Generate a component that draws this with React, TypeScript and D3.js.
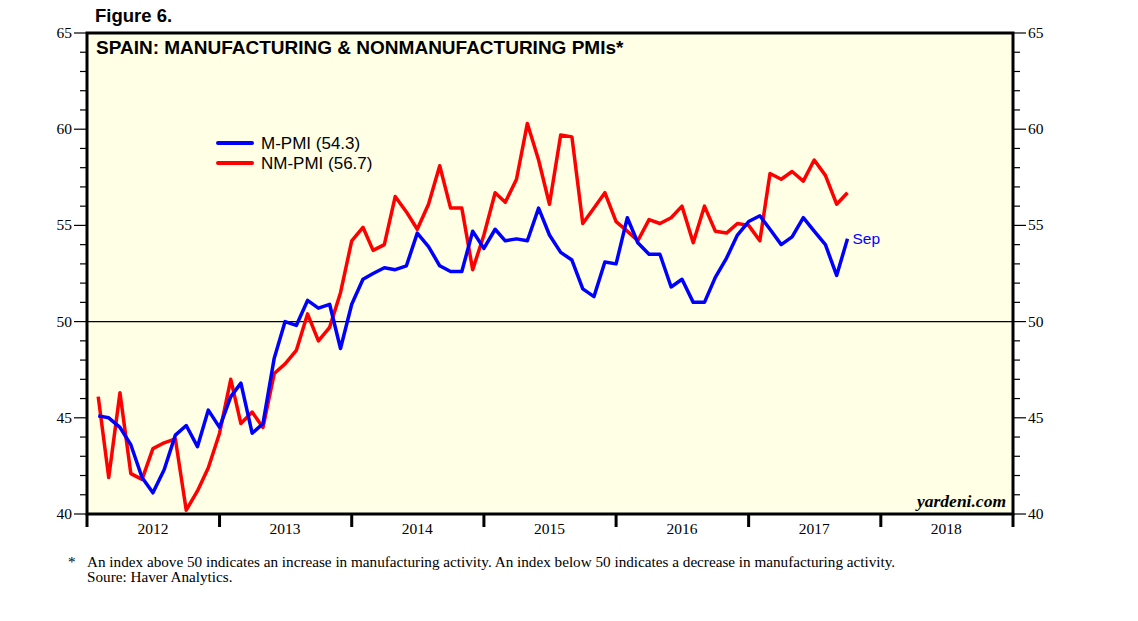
import React from "react";
import * as d3 from "d3";

const W = 1138;
const H = 621;

const startYear = 2012;
const yearLabels = ["2012", "2013", "2014", "2015", "2016", "2017", "2018"];
const yTicks = [40, 45, 50, 55, 60, 65];

// Monthly, Jan 2012 .. Sep 2017
const mPmi = [
  45.1, 45.0, 44.5, 43.6, 41.9, 41.1, 42.3, 44.1, 44.6, 43.5, 45.4, 44.5,
  46.1, 46.8, 44.2, 44.7, 48.1, 50.0, 49.8, 51.1, 50.7, 50.9, 48.6, 50.9,
  52.2, 52.5, 52.8, 52.7, 52.9, 54.6, 53.9, 52.9, 52.6, 52.6, 54.7, 53.8,
  54.8, 54.2, 54.3, 54.2, 55.9, 54.5, 53.6, 53.2, 51.7, 51.3, 53.1, 53.0,
  55.4, 54.1, 53.5, 53.5, 51.8, 52.2, 51.0, 51.0, 52.3, 53.3, 54.5, 55.2,
  55.5, 54.8, 54.0, 54.4, 55.4, 54.7, 54.0, 52.4, 54.3,
];
const nmPmi = [
  46.1, 41.9, 46.3, 42.1, 41.8, 43.4, 43.7, 43.9, 40.2, 41.2, 42.4, 44.2,
  47.0, 44.7, 45.3, 44.5, 47.3, 47.8, 48.5, 50.4, 49.0, 49.7, 51.5, 54.2,
  54.9, 53.7, 54.0, 56.5, 55.7, 54.8, 56.1, 58.1, 55.9, 55.9, 52.7, 54.5,
  56.7, 56.2, 57.4, 60.3, 58.4, 56.1, 59.7, 59.6, 55.1, 55.9, 56.7, 55.2,
  54.7, 54.2, 55.3, 55.1, 55.4, 56.0, 54.1, 56.0, 54.7, 54.6, 55.1, 55.0,
  54.2, 57.7, 57.4, 57.8, 57.3, 58.4, 57.6, 56.1, 56.7,
];

const seriesNames = ["M-PMI (54.3)", "NM-PMI (56.7)"];

const X0 = 87, X1 = 1013, Y0 = 33, Y1 = 514;

export default function App() {
  const x = d3
    .scaleTime()
    .domain([new Date(startYear, 0, 1), new Date(startYear + 7, 0, 1)])
    .range([X0, X1]);
  const y = d3.scaleLinear().domain([40, 65]).range([Y1, Y0]);

  const dateOf = (i: number) => new Date(startYear, i + 1, 1);
  const line = d3
    .line<number>()
    .x((_, i) => x(dateOf(i)))
    .y((d) => y(d));

  const minor = d3.range(40, 66, 1);
  const yearBounds = d3.range(0, 8).map((k) => new Date(startYear + k, 0, 1));
  const serif = "'Liberation Serif', 'Times New Roman', serif";
  const sans = "'Liberation Sans', Arial, sans-serif";

  const last = mPmi.length - 1;

  return (
    <svg
      width={W}
      height={H}
      style={{ position: "absolute", left: 0, top: 0, background: "#fff" }}
    >
      <text x={95} y={22} fontFamily={sans} fontWeight="bold" fontSize={18.5} fill="#000">
        Figure 6.
      </text>
      <rect x={X0} y={Y0} width={X1 - X0} height={Y1 - Y0} fill="#ffffe6" />

      {/* y ticks left & right */}
      {minor.map((v) => {
        const major = v % 5 === 0;
        const len = major ? 13 : 7;
        return (
          <g key={v}>
            <line x1={X0 - len} x2={X0} y1={y(v)} y2={y(v)} stroke="#000" strokeWidth={1.2} />
            <line x1={X1} x2={X1 + len} y1={y(v)} y2={y(v)} stroke="#000" strokeWidth={1.2} />
          </g>
        );
      })}
      {yTicks.map((v) => (
        <g key={"l" + v} fontFamily={serif} fontSize={15.5} fill="#000">
          <text x={X0 - 15} y={y(v) + 5} textAnchor="end">{v}</text>
          <text x={X1 + 15} y={y(v) + 5} textAnchor="start">{v}</text>
        </g>
      ))}

      {/* x ticks */}
      {yearBounds.map((d, k) => (
        <line key={k} x1={x(d)} x2={x(d)} y1={Y1} y2={Y1 + 13} stroke="#000" strokeWidth={3} />
      ))}
      {yearLabels.map((lab, k) => {
        const mid = new Date(startYear + k, 6, 1);
        return (
          <text key={lab} x={x(mid)} y={Y1 + 20} textAnchor="middle" fontFamily={serif} fontSize={15.5} fill="#000">
            {lab}
          </text>
        );
      })}

      <line x1={X0} x2={X1} y1={y(50)} y2={y(50)} stroke="#000" strokeWidth={1.2} />

      <path d={line(nmPmi) || ""} fill="none" stroke="#ff0000" strokeWidth={3.5} strokeLinejoin="round" />
      <path d={line(mPmi) || ""} fill="none" stroke="#0000ff" strokeWidth={3.5} strokeLinejoin="round" />

      <text x={x(dateOf(last)) + 5} y={y(mPmi[last]) + 5} fontFamily={sans} fontSize={15.5} fill="#0000ff">
        Sep
      </text>

      {/* legend */}
      <line x1={218} x2={252} y1={143} y2={143} stroke="#0000ff" strokeWidth={4} strokeLinecap="round" />
      <line x1={218} x2={252} y1={163} y2={163} stroke="#ff0000" strokeWidth={4} strokeLinecap="round" />
      <text x={261} y={149} fontFamily={sans} fontSize={17} fill="#000">{seriesNames[0]}</text>
      <text x={261} y={169} fontFamily={sans} fontSize={17} fill="#000">{seriesNames[1]}</text>

      <text x={96} y={54} fontFamily={sans} fontWeight="bold" fontSize={19} fill="#000">
        SPAIN: MANUFACTURING &amp; NONMANUFACTURING PMIs*
      </text>

      <text x={1006} y={507} textAnchor="end" fontFamily={serif} fontStyle="italic" fontWeight="bold" fontSize={17.5} fill="#000">
        yardeni.com
      </text>

      <rect x={X0} y={Y0} width={X1 - X0} height={Y1 - Y0} fill="none" stroke="#000" strokeWidth={3} />

      <g fontFamily={serif} fontSize={15.2} fill="#000">
        <text x={68} y={567}>*</text>
        <text x={87} y={567}>
          An index above 50 indicates an increase in manufacturing activity. An index below 50 indicates a decrease in manufacturing activity.
        </text>
        <text x={87} y={582}>Soure: Haver Analytics.</text>
      </g>
    </svg>
  );
}
